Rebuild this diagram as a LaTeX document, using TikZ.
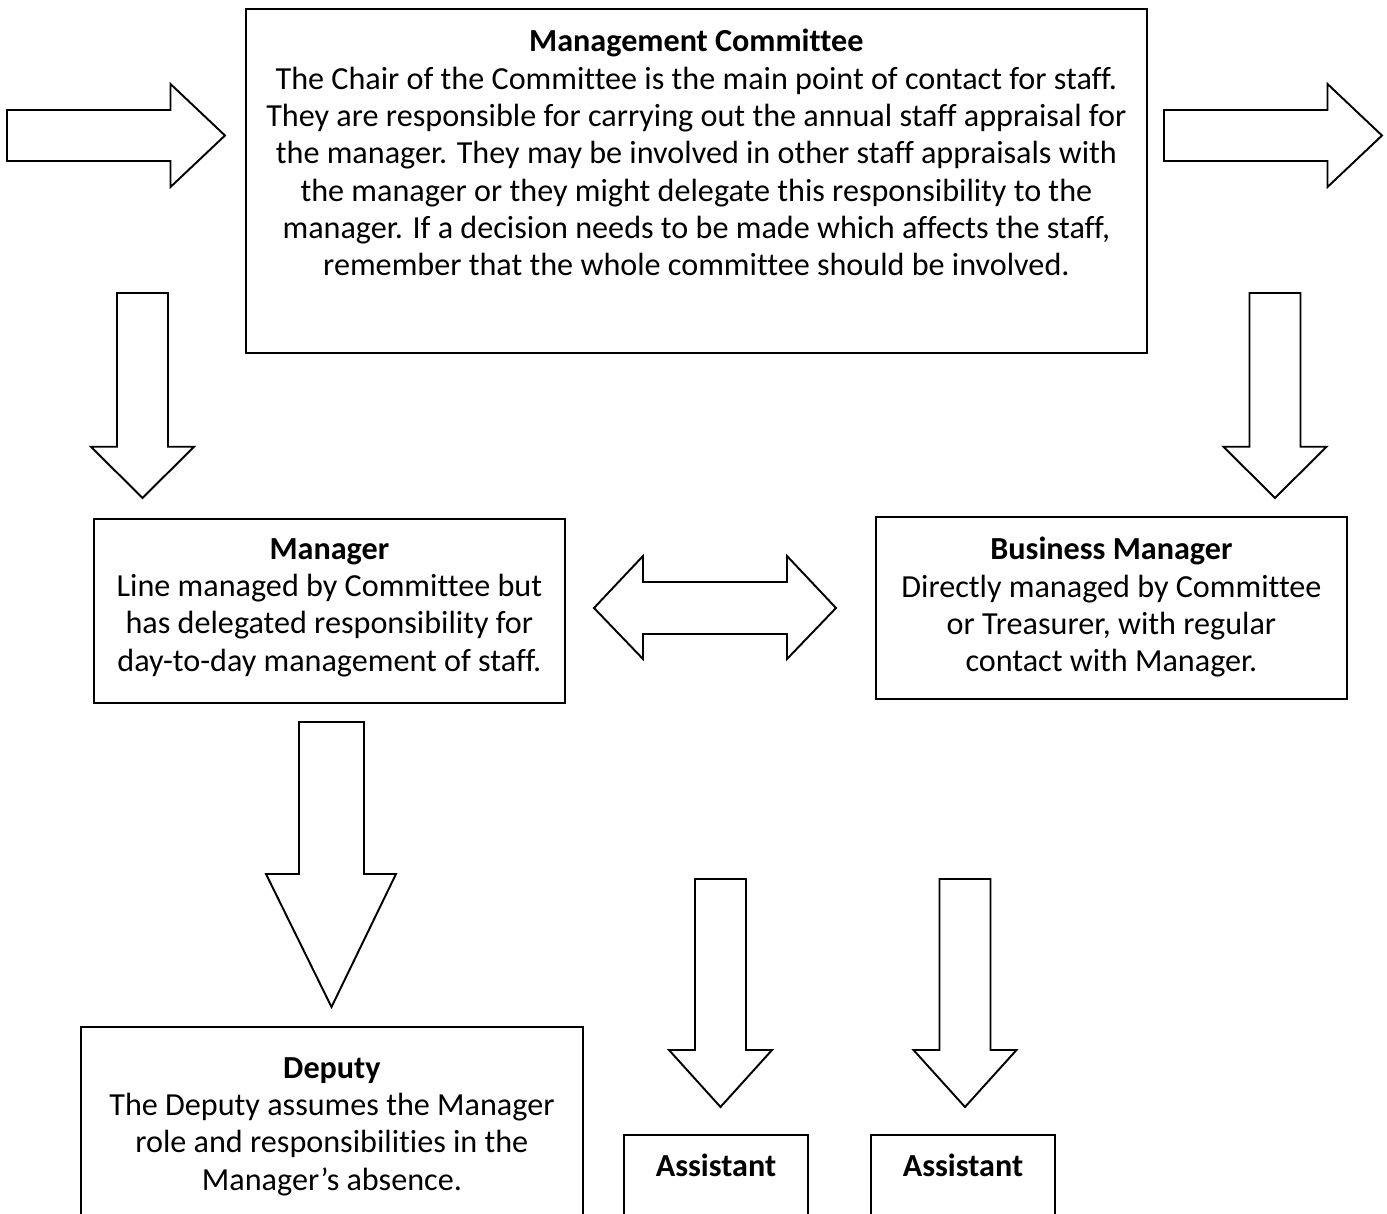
\documentclass[tikz,border=0pt]{standalone}
\usepackage{fontspec}
\setmainfont{Carlito}[Ligatures=CommonOff]
\usetikzlibrary{positioning}

\tikzset{%
    frame/.style={draw, line width=1.1pt, inner sep=0, anchor=north west},
    boxtext/.style={align=center, inner sep=0, anchor=north,
        font=\fontsize{18.3}{21.25}\selectfont},
    blockarrow/.style={draw, line width=1.1pt, fill=white, line join=miter},
    downarrow/.pic={%
        \draw[blockarrow] (-25.5, 0) -- (-25.5, #1*0.75) -- (-51.5, #1*0.75)
            -- (0, #1) -- (51.5, #1*0.75) -- (25.5, #1*0.75) -- (25.5, 0) -- cycle;
    }
}

\begin{document}
\begin{tikzpicture}[x=0.02cm, y=-0.02cm]

    \useasboundingbox (0, 0) rectangle (1387, 1214);

    % Management Committee
    \node[frame, minimum width=18.02cm, minimum height=6.88cm] (mc) at (245, 8) {};
    \node[boxtext, below=0.42cm of mc.north] (mctext) {%
        \textbf{Management Committee}\\
        The Chair of the Committee is the main point of contact for staff.\\
        They are responsible for carrying out the annual staff appraisal for\\
        the manager.  They may be involved in other staff appraisals with\\
        the manager or they might delegate this responsibility to the\\
        manager.  If a decision needs to be made which affects the staff,\\
        remember that the whole committee should be involved.};

    % Manager and Business Manager
    \node[frame, minimum width=9.42cm, minimum height=3.68cm] (mgr) at (93, 518) {};
    \node[boxtext, below=0.4cm of mgr.north] (mgrtext) {%
        \textbf{Manager}\\
        Line managed by Committee but\\
        has delegated responsibility for\\
        day-to-day management of staff.};

    \node[frame, minimum width=9.42cm, minimum height=3.64cm] (bm) at (875, 516) {};
    \node[boxtext, below=0.42cm of bm.north] (bmtext) {%
        \textbf{Business Manager}\\
        Directly managed by Committee\\
        or Treasurer, with regular\\
        contact with Manager.};

    % Deputy and Assistants
    \node[frame, minimum width=10.04cm, minimum height=4.7cm] (dep) at (80, 1026) {};
    \node[boxtext, below=0.62cm of dep.north] (deptext) {%
        \textbf{Deputy}\\
        The Deputy assumes the Manager\\
        role and responsibilities in the\\
        Manager’s absence.};

    \node[frame, minimum width=3.68cm, minimum height=2.6cm] (asst1) at (623, 1134) {};
    \node[boxtext, below=0.4cm of asst1.north] (asst1text) {\textbf{Assistant}};

    \node[frame, minimum width=3.68cm, minimum height=2.6cm] (asst2) at (870, 1134) {};
    \node[boxtext, below=0.4cm of asst2.north] (asst2text) {\textbf{Assistant}};

    % Block arrows
    \coordinate (inleft) at (7, 135.5);
    \coordinate (outright) at (1164, 135.5);
    \coordinate (mgrdown) at (142.5, 293);
    \coordinate (bmdown) at (1275, 293);
    \coordinate (asst1down) at (720.5, 879);
    \coordinate (asst2down) at (965, 879);

    \path (inleft) pic[rotate=90] {downarrow=218}
          (outright) pic[rotate=90] {downarrow=218}
          (mgrdown) pic {downarrow=205}
          (bmdown) pic {downarrow=205}
          (asst1down) pic {downarrow=228}
          (asst2down) pic {downarrow=228};

    % Manager to Deputy
    \draw[blockarrow] (299, 722) -- (299, 874) -- (266, 874) -- (331.5, 1007)
        -- (396, 874) -- (364, 874) -- (364, 722) -- cycle;

    % Manager <-> Business Manager
    \draw[blockarrow] (594, 608) -- (643, 556) -- (643, 582) -- (787, 582)
        -- (787, 556) -- (836, 608) -- (787, 659) -- (787, 634)
        -- (643, 634) -- (643, 659) -- cycle;

\end{tikzpicture}
\end{document}
